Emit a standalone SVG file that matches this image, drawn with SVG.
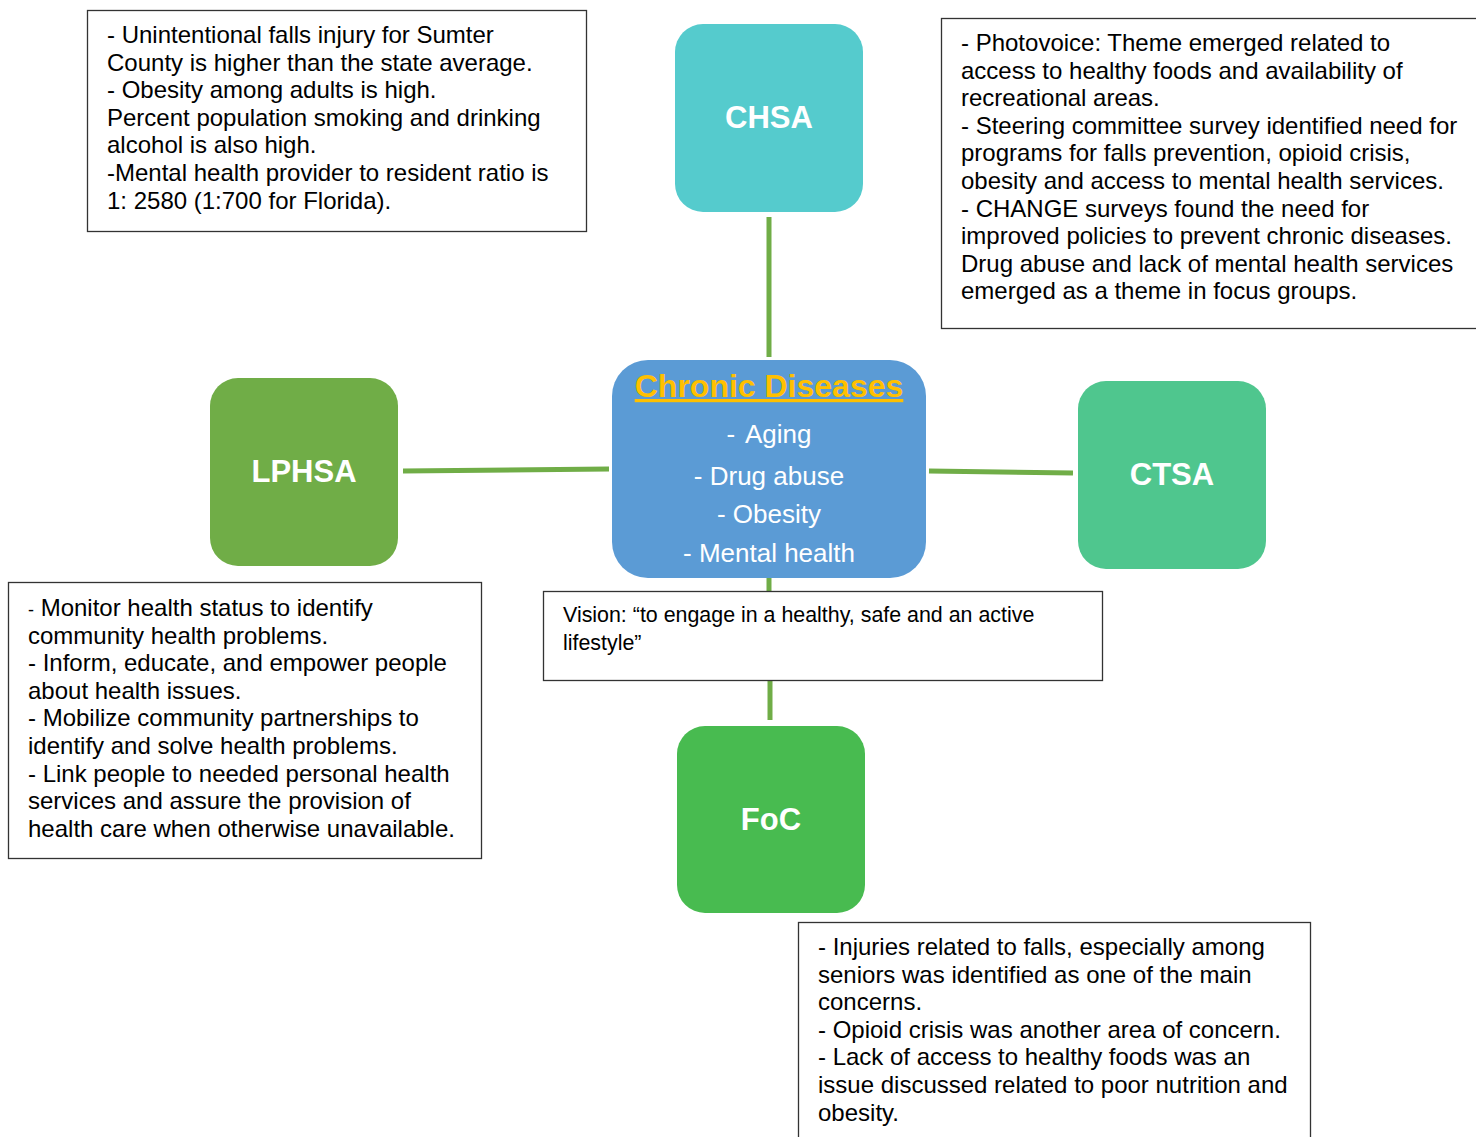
<svg xmlns="http://www.w3.org/2000/svg" width="1476" height="1137" viewBox="0 0 1476 1137">
<style>
.box{fill:#fff;stroke:#333;stroke-width:1.3}
.t{font-family:"Liberation Sans",Arial,sans-serif;font-size:24px;fill:#000}
.v{font-family:"Liberation Sans",Arial,sans-serif;font-size:21.4px;fill:#000}
.lab{font-family:"Liberation Sans",Arial,sans-serif;font-size:31px;font-weight:bold;fill:#fff;text-anchor:middle}
.it{font-family:"Liberation Sans",Arial,sans-serif;font-size:26px;fill:#fff;text-anchor:middle}
.con{stroke:#70AD47;stroke-width:5;fill:none}
</style>
<rect width="1476" height="1137" fill="#fff"/>
<g id="connectors">
<line class="con" x1="769" y1="217" x2="769" y2="357"/>
<line class="con" x1="403" y1="471" x2="609" y2="469"/>
<line class="con" x1="929" y1="471" x2="1073" y2="473"/>
<line class="con" x1="769" y1="578" x2="769" y2="592"/>
<line class="con" x1="770" y1="681" x2="770" y2="720"/>
</g>
<g id="note-top-left">
<rect class="box" x="87.5" y="10.5" width="499" height="221"/>
<text class="t" x="107" y="43">- Unintentional falls injury for Sumter</text>
<text class="t" x="107" y="70.6">County is higher than the state average.</text>
<text class="t" x="107" y="98.2">- Obesity among adults is high.</text>
<text class="t" x="107" y="125.8">Percent population smoking and drinking</text>
<text class="t" x="107" y="153.4">alcohol is also high.</text>
<text class="t" x="107" y="181">-Mental health provider to resident ratio is</text>
<text class="t" x="107" y="208.6">1: 2580 (1:700 for Florida).</text>
</g>
<g id="note-top-right">
<rect class="box" x="941.5" y="18.5" width="545" height="310"/>
<text class="t" x="961" y="51">- Photovoice: Theme emerged related to</text>
<text class="t" x="961" y="78.6">access to healthy foods and availability of</text>
<text class="t" x="961" y="106.2">recreational areas.</text>
<text class="t" x="961" y="133.8">- Steering committee survey identified need for</text>
<text class="t" x="961" y="161.4">programs for falls prevention, opioid crisis,</text>
<text class="t" x="961" y="189">obesity and access to mental health services.</text>
<text class="t" x="961" y="216.6">- CHANGE surveys found the need for</text>
<text class="t" x="961" y="244.2">improved policies to prevent chronic diseases.</text>
<text class="t" x="961" y="271.8">Drug abuse and lack of mental health services</text>
<text class="t" x="961" y="299.4">emerged as a theme in focus groups.</text>
</g>
<g id="note-bottom-left">
<rect class="box" x="8.5" y="582.5" width="473" height="276"/>
<text class="t" x="28" y="616"><tspan font-size="18">-</tspan> Monitor health status to identify</text>
<text class="t" x="28" y="643.6">community health problems.</text>
<text class="t" x="28" y="671.2">- Inform, educate, and empower people</text>
<text class="t" x="28" y="698.8">about health issues.</text>
<text class="t" x="28" y="726.4">- Mobilize community partnerships to</text>
<text class="t" x="28" y="754">identify and solve health problems.</text>
<text class="t" x="28" y="781.6">- Link people to needed personal health</text>
<text class="t" x="28" y="809.2">services and assure the provision of</text>
<text class="t" x="28" y="836.8">health care when otherwise unavailable.</text>
</g>
<g id="note-bottom-right">
<rect class="box" x="798.5" y="922.5" width="512" height="230"/>
<text class="t" x="818" y="955">- Injuries related to falls, especially among</text>
<text class="t" x="818" y="982.6">seniors was identified as one of the main</text>
<text class="t" x="818" y="1010.2">concerns.</text>
<text class="t" x="818" y="1037.8">- Opioid crisis was another area of concern.</text>
<text class="t" x="818" y="1065.4">- Lack of access to healthy foods was an</text>
<text class="t" x="818" y="1093">issue discussed related to poor nutrition and</text>
<text class="t" x="818" y="1120.6">obesity.</text>
</g>
<g id="vision">
<rect class="box" x="543.5" y="591.5" width="559" height="89"/>
<text class="v" x="563" y="622">Vision: “to engage in a healthy, safe and an active</text>
<text class="v" x="563" y="650">lifestyle”</text>
</g>
<g id="chronic-diseases">
<rect x="612" y="360" width="314" height="218" rx="36" fill="#5B9BD5"/>
<text x="769" y="397" text-anchor="middle" font-family="Liberation Sans,Arial,sans-serif" font-size="32" font-weight="bold" fill="#FFC000" text-decoration="underline">Chronic Diseases</text>
<text class="it" x="769" y="443">- <tspan dx="4">Aging</tspan></text>
<text class="it" x="769" y="485">- Drug abuse</text>
<text class="it" x="769" y="523">- Obesity</text>
<text class="it" x="769" y="562">- Mental health</text>
</g>
<g id="chsa">
<rect x="675" y="24" width="188" height="188" rx="28" fill="#55CBCD"/>
<text class="lab" x="769" y="128">CHSA</text>
</g>
<g id="lphsa">
<rect x="210" y="378" width="188" height="188" rx="28" fill="#70AD47"/>
<text class="lab" x="304" y="482">LPHSA</text>
</g>
<g id="ctsa">
<rect x="1078" y="381" width="188" height="188" rx="28" fill="#4FC68E"/>
<text class="lab" x="1172" y="485">CTSA</text>
</g>
<g id="foc">
<rect x="677" y="726" width="188" height="187" rx="28" fill="#48BB50"/>
<text class="lab" x="771" y="830">FoC</text>
</g>
</svg>
